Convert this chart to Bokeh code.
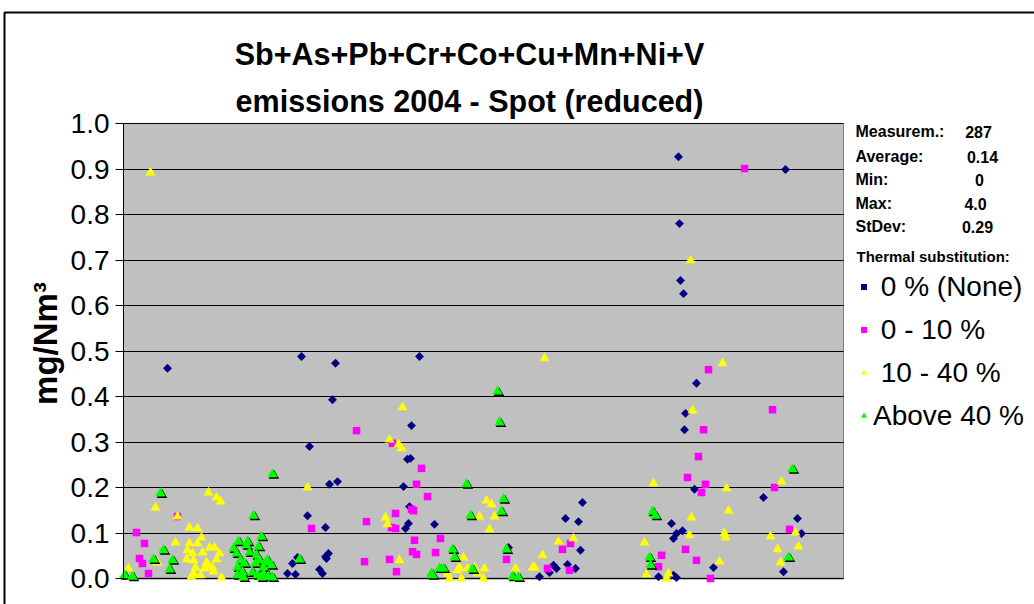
import math
from bokeh.plotting import figure
from bokeh.models import (Range1d, FixedTicker, Label, Legend, LegendItem,
                          BoxAnnotation, ColumnDataSource)
from bokeh.transform import dodge
from bokeh.embed import file_html
from bokeh.resources import INLINE

# ---------------- data ----------------
title_lines = ["Sb+As+Pb+Cr+Co+Cu+Mn+Ni+V", "emissions 2004 - Spot (reduced)"]
y_title = "mg/Nm\u00b3"
y_ticks = [0.0, 0.1, 0.2, 0.3, 0.4, 0.5, 0.6, 0.7, 0.8, 0.9, 1.0]
y_tick_labels = ["0.0", "0.1", "0.2", "0.3", "0.4", "0.5", "0.6", "0.7", "0.8", "0.9", "1.0"]
x_days = (0, 360)          # plotted period (day of year)
y_limits = (0.0, 1.0)

series_names = ["\u00a00 % (None)", "\u00a00 - 10 %", "\u00a010 - 40 %", "Above 40 %"]

stats_names = ["Measurem.:", "Average:", "Min:", "Max:", "StDev:"]
stats_values = ["287", "0.14", "0", "4.0", "0.29"]
legend_heading = "Thermal substitution:"

# day of year (x) and concentration mg/Nm3 (y)
none_day = [22, 89, 106, 104.5, 93, 82, 86, 84.5, 87, 92, 101, 98, 99.5, 101, 102.5,
            101.5, 103, 107, 148, 144, 142, 143.5, 140, 143, 155.5, 142.5, 141,
            192.5, 229.5, 221, 227.5, 228.5, 222, 226, 215, 216.5, 213, 208,
            277.5, 331, 278, 278.5, 280, 286.5, 281, 280.5, 285.5, 320,
            337, 274, 279.5, 276.5, 275, 339, 330, 295, 267.5, 275, 276.5]
none_val = [0.462, 0.488, 0.473, 0.393, 0.290, 0.011, 0.009, 0.033, 0.046, 0.138,
            0.112, 0.020, 0.011, 0.048, 0.055, 0.044, 0.207, 0.213, 0.488, 0.336,
            0.262, 0.264, 0.202, 0.158, 0.119, 0.121, 0.110, 0.068, 0.167, 0.132,
            0.125, 0.062, 0.031, 0.022, 0.029, 0.022, 0.013, 0.004, 0.927, 0.899,
            0.780, 0.655, 0.626, 0.429, 0.363, 0.327, 0.196, 0.178, 0.132, 0.121,
            0.105, 0.099, 0.088, 0.099, 0.015, 0.024, 0.004, 0.007, 0.002]

low_day = [6.5, 10.5, 8, 9.5, 12.5, 27, 94, 116.5, 134.5, 149, 146.5, 152, 144, 145,
           136, 121.5, 134, 136, 145.5, 158.5, 144.5, 146.5, 156, 120.5, 133, 136.5,
           191.5, 219.5, 223.5, 223, 212, 310.5, 292.5, 324.5, 290, 287.5, 282, 291,
           289, 325.5, 333, 281, 269, 286.5, 267.5, 293.5]
low_val = [0.101, 0.077, 0.044, 0.033, 0.011, 0.136, 0.110, 0.325, 0.297, 0.242,
           0.207, 0.180, 0.152, 0.149, 0.143, 0.125, 0.112, 0.110, 0.084, 0.088,
           0.059, 0.053, 0.057, 0.037, 0.042, 0.015, 0.042, 0.064, 0.077, 0.018,
           0.022, 0.901, 0.459, 0.371, 0.327, 0.268, 0.222, 0.207, 0.189, 0.200,
           0.108, 0.064, 0.051, 0.040, 0.026, 0.000]

mid_day = [13.5, 2.5, 16, 17, 27, 26, 33, 37, 42.5, 46.5, 48.5, 39, 33, 32, 34.5,
           37, 39.5, 43, 45.5, 48, 46.5, 31.5, 35, 41.5, 36, 40.5, 44.5, 42.5, 34,
           38.5, 49, 35, 45, 92, 210.5, 139.5, 133, 137.5, 139, 181.5, 184, 185.5,
           178, 131, 132, 183, 138, 170, 162, 163, 167, 168, 169, 172, 175.5, 177,
           180.5, 180, 196, 217.5, 225, 209.5, 204.5, 205.5, 283.5, 299.5, 284.5,
           329, 265, 301.5, 302.5, 284, 283, 300.5, 301, 336, 323.5, 327, 337.5,
           260.5, 298, 328.5, 261.5, 272.5, 271.5]
mid_val = [0.892, 0.022, 0.156, 0.035, 0.136, 0.079, 0.112, 0.110, 0.189, 0.178,
           0.169, 0.090, 0.077, 0.062, 0.055, 0.077, 0.057, 0.068, 0.068, 0.055,
           0.042, 0.042, 0.040, 0.035, 0.024, 0.022, 0.024, 0.029, 0.004, 0.007,
           0.002, 0.011, 0.015, 0.200, 0.484, 0.376, 0.305, 0.295, 0.286, 0.171,
           0.163, 0.136, 0.136, 0.134, 0.119, 0.108, 0.040, 0.046, 0.011, 0.000,
           0.018, 0.024, 0.000, 0.022, 0.024, 0.011, 0.022, 0.000, 0.022, 0.081,
           0.088, 0.051, 0.024, 0.024, 0.699, 0.473, 0.369, 0.213, 0.209, 0.198,
           0.149, 0.134, 0.095, 0.099, 0.090, 0.101, 0.092, 0.064, 0.070, 0.079,
           0.037, 0.035, 0.009, 0.011, 0.000]

high_day = [0.5, 4.5, 18.5, 15, 20, 24.5, 23, 55, 57.5, 62, 56.5, 61.5, 63, 67.5, 69,
            65, 74.5, 66.5, 58.5, 60.5, 57, 59.5, 57, 60, 66, 68, 70, 71, 72, 74,
            64.5, 67, 70, 72.5, 74.5, 69, 88, 187, 188, 171.5, 190, 189, 173.5,
            164.5, 165.5, 154, 154.5, 158, 160, 174.5, 191.5, 194.5, 197.5,
            334.5, 264.5, 266, 263, 263.5, 332.5]
high_val = [0.007, 0.004, 0.187, 0.042, 0.062, 0.040, 0.020, 0.066, 0.081, 0.081,
            0.055, 0.073, 0.057, 0.070, 0.092, 0.138, 0.229, 0.051, 0.040, 0.033,
            0.024, 0.013, 0.007, 0.002, 0.033, 0.040, 0.024, 0.035, 0.040, 0.029,
            0.013, 0.007, 0.011, 0.004, 0.002, 0.002, 0.042, 0.411, 0.343, 0.207,
            0.174, 0.147, 0.138, 0.064, 0.046, 0.011, 0.007, 0.022, 0.022, 0.020,
            0.064, 0.004, 0.002, 0.240, 0.147, 0.138, 0.046, 0.029, 0.046]

# ---------------- styles / layout ----------------
FONT = "Liberation Sans"
C_NONE, C_LOW, C_MID, C_HIGH = "#000080", "#FF00FF", "#FFFF00", "#00FF00"
W, H = 1034, 604
PLOT_L, PLOT_R, PLOT_T, PLOT_B = 123, 843, 123, 578   # plot-area pixels on the canvas

# the frame covers the whole canvas; axes are drawn at fixed locations
px_per_day = (PLOT_R - PLOT_L) / (x_days[1] - x_days[0])
px_per_unit = (PLOT_B - PLOT_T) / (y_limits[1] - y_limits[0])
x_range = Range1d(x_days[0] - PLOT_L / px_per_day, x_days[1] + (W - PLOT_R) / px_per_day)
y_range = Range1d(y_limits[0] - (H - PLOT_B) / px_per_unit, y_limits[1] + PLOT_T / px_per_unit)

p = figure(width=W, height=H, x_range=x_range, y_range=y_range,
           output_backend="svg", toolbar_location=None, title=None,
           min_border=0, min_border_left=0, min_border_right=0,
           min_border_top=0, min_border_bottom=0,
           background_fill_color="white", border_fill_color="white",
           outline_line_color=None)

# grey plot area
p.add_layout(BoxAnnotation(left=x_days[0], right=x_days[1], bottom=y_limits[0], top=y_limits[1],
                           fill_color="#C0C0C0", fill_alpha=1, line_color="#808080",
                           line_alpha=1, line_width=1, level="image"))

# y axis
ya = p.yaxis[0]
ya.fixed_location = x_days[0]
ya.bounds = y_limits
ya.ticker = FixedTicker(ticks=y_ticks)
ya.major_label_overrides = dict(zip(y_ticks, y_tick_labels))
ya.major_label_text_font = FONT
ya.major_label_text_font_size = "28px"
ya.major_label_text_color = "black"
ya.major_label_standoff = 6
ya.major_tick_out = 8
ya.major_tick_in = 0
ya.minor_tick_out = 0
ya.minor_tick_in = 0
ya.axis_line_color = "black"
ya.major_tick_line_color = "black"

# x axis (line only)
xa = p.xaxis[0]
xa.fixed_location = y_limits[0]
xa.bounds = x_days
xa.ticker = FixedTicker(ticks=[])
xa.major_label_text_font_size = "0px"
xa.major_tick_out = 0
xa.minor_tick_out = 0
xa.axis_line_color = "#808080"
xa.axis_line_width = 2
xa.level = "underlay"

# horizontal grid lines
g = p.ygrid[0]
g.ticker = FixedTicker(ticks=y_ticks)
g.grid_line_color = "black"
g.grid_line_width = 1
if "cross_bounds" in g.properties():
    g.cross_bounds = x_days
    g.bounds = y_limits
else:
    g.visible = False
    p.segment(x0=x_days[0], x1=x_days[1], y0=y_ticks, y1=y_ticks,
              line_color="black", line_width=1, level="underlay")
p.xgrid.visible = False

# series
r_none = p.scatter(none_day, none_val, marker="square", angle=math.pi / 4, size=6.3,
                   fill_color=C_NONE, line_color=None)
r_low = p.scatter(low_day, low_val, marker="square", size=7.5,
                  fill_color=C_LOW, line_color=None)
r_mid = p.scatter(mid_day, mid_val, marker="triangle", size=10,
                  fill_color=C_MID, line_color=None)
src_high = ColumnDataSource(dict(x=high_day, y=high_val))
p.scatter(x=dodge("x", 1.5 / px_per_day, range=p.x_range),
          y=dodge("y", -1.5 / px_per_unit, range=p.y_range),
          source=src_high, marker="triangle", size=10.5, fill_color="black", line_color=None)
r_high = p.scatter(x="x", y="y", source=src_high, marker="triangle", size=10.5,
                   fill_color=C_HIGH, line_color=None)

# legend
legend = Legend(items=[LegendItem(label=series_names[0], renderers=[r_none]),
                       LegendItem(label=series_names[1], renderers=[r_low]),
                       LegendItem(label=series_names[2], renderers=[r_mid]),
                       LegendItem(label=series_names[3], renderers=[r_high])],
                location=(856, 167), padding=0, margin=0, spacing=0,
                label_height=43, glyph_height=15, glyph_width=15, label_standoff=2,
                border_line_color=None, background_fill_alpha=0,
                label_text_font=FONT, label_text_font_size="28px",
                label_text_color="black")
p.add_layout(legend)

def txt(x, y, text, size, bold=True, align="left", baseline="alphabetic", angle=0.0):
    # x, y: canvas pixels measured from the left and from the bottom
    p.add_layout(Label(x=x, y=y, x_units="screen", y_units="screen", text=text,
                       text_font=FONT, text_font_size=size,
                       text_font_style="bold" if bold else "normal",
                       text_align=align, text_baseline=baseline, angle=angle,
                       text_color="black"))

# title
txt(469, H - 53, title_lines[0], "30.5px", align="center")
txt(469, H - 100, title_lines[1], "30.5px", align="center")
# y axis title
txt(45, H - 343, y_title, "33px", align="center", baseline="middle", angle=math.pi / 2)

# statistics box
stat_base = [131, 156, 179, 203, 226]
stat_val_x = [978, 982, 979, 975, 977]
for name, val, by, vx in zip(stats_names, stats_values, stat_base, stat_val_x):
    txt(855, H - by, name, "16px")
    txt(vx, H - by, val, "16px", align="center")
txt(856, H - 256, legend_heading, "15px")

# outer chart border
p.add_layout(BoxAnnotation(left=4, right=W + 50, top=H - 12, bottom=-50,
                           left_units="screen", right_units="screen",
                           top_units="screen", bottom_units="screen",
                           fill_alpha=0, line_color="black", line_alpha=1, line_width=2))

open("out.html", "w").write(file_html(p, INLINE))
